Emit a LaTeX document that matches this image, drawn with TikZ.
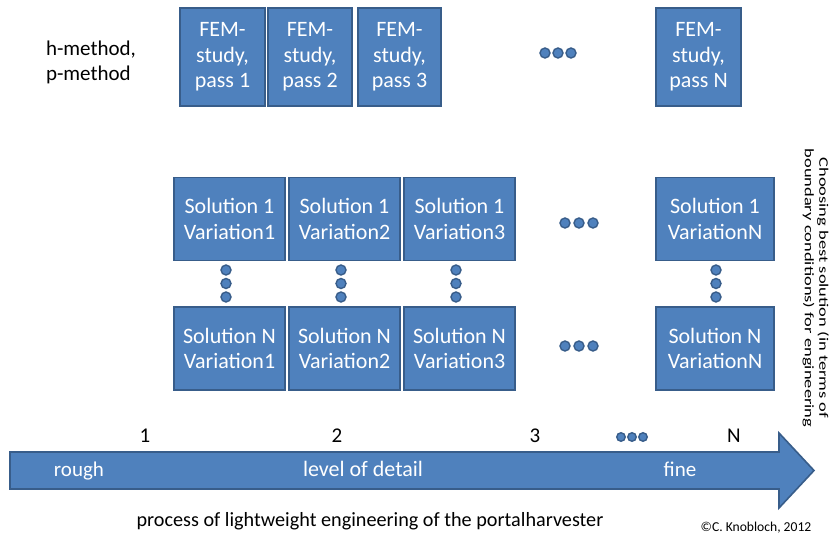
\documentclass[tikz,border=0pt]{standalone}
\usepackage{fontspec}
\setmainfont{Carlito}
\usetikzlibrary{positioning}
\definecolor{boxfill}{HTML}{4F81BD}
\definecolor{boxline}{HTML}{385D8A}
\begin{document}
\begin{tikzpicture}[x=1pt,y=-1pt,
  bluebox/.style={draw=boxline, line width=1.6pt, fill=boxfill, text=white,
    align=center, inner sep=0pt, font=\fontsize{22}{25.5}\selectfont},
  fembox/.style={bluebox, minimum width=84pt, minimum height=98pt},
  solbox/.style={bluebox, minimum width=111pt, minimum height=83pt},
  soln/.style={bluebox, minimum width=118pt, minimum height=83pt},
  dotmark/.style={circle, draw=boxline, line width=1.4pt, fill=boxfill, inner sep=0pt, minimum size=10pt},
  smalldot/.style={dotmark, minimum size=8.5pt},
  plain/.style={inner sep=0pt, font=\fontsize{21}{25}\selectfont},
  arrowtext/.style={plain, text=white, text height=14pt, text depth=4pt}
]
\useasboundingbox (0,0) rectangle (833,540);

% left label
\node[plain, align=left] (hp) at (91,62) {h-method,\\p-method};

% FEM boxes
\node[fembox, minimum width=85pt] (f1) at (222.5,57) {FEM-\\study,\\pass 1};
\node[fembox] (f2) at (310,57) {FEM-\\study,\\pass 2};
\node[fembox, minimum width=83pt] (f3) at (399.5,57) {FEM-\\study,\\pass 3};
\node[fembox, minimum width=85pt] (fn) at (698.5,57) {FEM-\\study,\\pass N};
\node[dotmark] (td1) at (545,53) {};
\node[dotmark] (td2) at (558,53) {};
\node[dotmark] (td3) at (571,53) {};

% Solution rows
\node[solbox] (a1) at (229.5,219) {Solution 1\\Variation1};
\node[solbox] (a2) at (344.5,219) {Solution 1\\Variation2};
\node[solbox] (a3) at (459.5,219) {Solution 1\\Variation3};
\node[soln]   (an) at (715,219) {Solution 1\\VariationN};
\node[solbox] (b1) at (229.5,348.5) {Solution N\\Variation1};
\node[solbox] (b2) at (344.5,348.5) {Solution N\\Variation2};
\node[solbox] (b3) at (459.5,348.5) {Solution N\\Variation3};
\node[soln]   (bn) at (715,348.5) {Solution N\\VariationN};

% horizontal dots in rows
\foreach \x [count=\i] in {565,579,593}{
  \node[dotmark] (ra\i) at (\x,223) {};
  \node[dotmark] (rb\i) at (\x,346) {};
}
% vertical dots
\foreach \x/\c in {226/1,341/2,456/3,716/n}{
  \foreach \y [count=\j] in {270,283.5,297}{
    \node[dotmark] (v\c\j) at (\x,\y) {};
  }
}

% right vertical text
\node[rotate=-90, inner sep=0pt] (choose) at (815,288)
  {\scalebox{1.42}[1]{\fontsize{13}{14.5}\selectfont\begin{tabular}{@{}c@{}}Choosing best solution (in terms of\\boundary conditions) for engineering\end{tabular}}};

% numbers
\node[plain] (n1) at (145,436) {1};
\node[plain] (n2) at (337,436) {2};
\node[plain] (n3) at (535,436) {3};
\node[plain] (nn) at (734,436) {N};
\node[smalldot] (bd1) at (621,437) {};
\node[smalldot] (bd2) at (632,437) {};
\node[smalldot] (bd3) at (643,437) {};

% big arrow
\draw[draw=boxline, line width=1.6pt, fill=boxfill, line join=miter]
  (10,452) -- (779,452) -- (779,433) -- (814,470.5) -- (779,508) -- (779,489) -- (10,489) -- cycle;
\node[arrowtext] (rough) at (79,471) {rough};
\node[arrowtext, font=\fontsize{22}{25}\selectfont] (lod) at (363,471) {level of detail};
\node[arrowtext] (fine) at (680,471) {fine};

% captions
\node[inner sep=0pt, font=\fontsize{20.2}{23}\selectfont] (cap) at (370,521) {process of lightweight engineering of the portalharvester};
\node[inner sep=0pt, font=\fontsize{13.6}{15}\selectfont] (copy) at (756,528) {©C. Knobloch, 2012};
\end{tikzpicture}
\end{document}
